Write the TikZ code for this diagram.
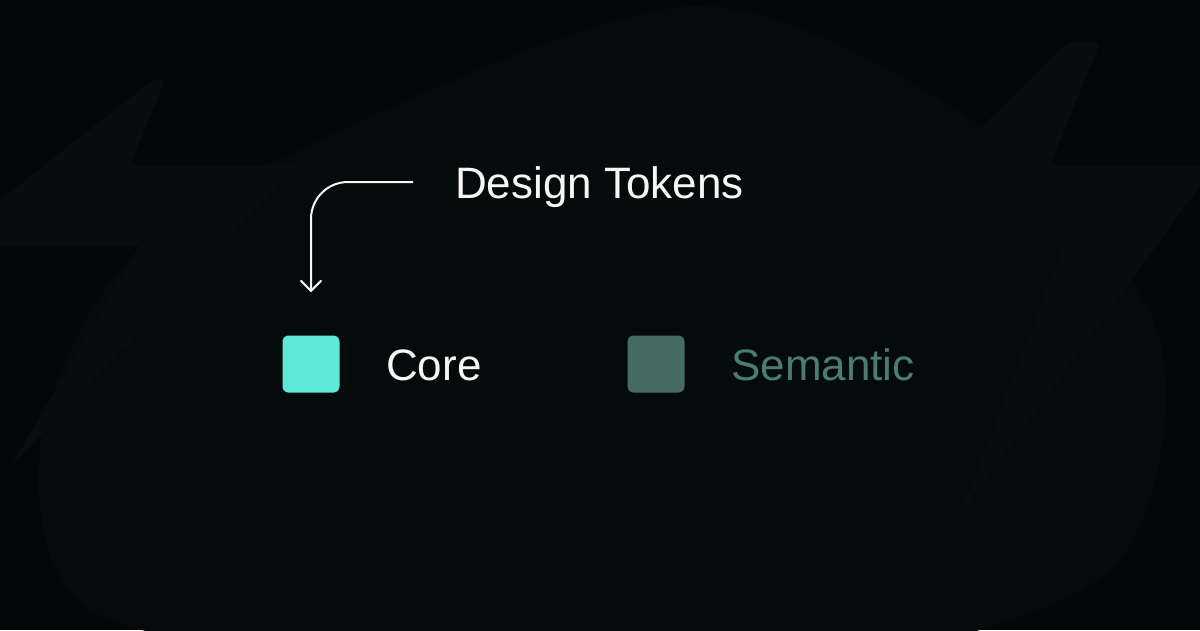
\documentclass[tikz,border=0pt]{standalone}
\usepackage{fontspec}
\setsansfont{Liberation Sans}
\RequirePackage{xcolor}
\definecolor{tokbg}{RGB}{3,7,7}
\definecolor{tokblob}{RGB}{5,10,10}
\definecolor{tokbolt}{RGB}{7,13,13}
\definecolor{tokcore}{RGB}{94,232,214}
\definecolor{toksem}{RGB}{70,107,100}
\definecolor{toksemtext}{RGB}{75,124,114}
\definecolor{tokwhite}{RGB}{246,246,246}
\tikzset{every picture/.style={/utils/exec={\sffamily}}}
\usetikzlibrary{calc}
\usetikzlibrary{positioning}
\usetikzlibrary{arrows.meta}
\tikzset{
  swatch/.style={minimum size=57pt, inner sep=0pt, rounded corners=6pt},
  tokentext/.style={anchor=base west, inner sep=0pt, font=\fontsize{44}{52}\selectfont},
}

\begin{document}
\begin{tikzpicture}[x=1pt,y=-1pt]
  \useasboundingbox (0,0) rectangle (1200,630);
  \clip (0,0) rectangle (1200,630);

  \fill [tokbg] (0,0) rectangle (1200,630); 
  \fill [tokblob] plot [smooth cycle] coordinates {(700,6) (1000,140) (1160,340) (1110,570) (800,670) (400,670) (90,610) (40,450) (120,270) (320,140)}; 

  \fill [tokbolt, rounded corners=4pt] (153,80) -- (165,80) -- (130,165) -- (297,165) -- (10,468) -- (140,245) -- (-57,245) -- cycle; 
  \fill [tokbolt, rounded corners=4pt] (1067,43) -- (1100,43) -- (1050,165) -- (1215,165) -- (960,515) -- (1063,247) -- (860,247) -- cycle; 

  \node [tokentext, text=tokwhite] (title) at (455,198) {Design Tokens}; 
  \node [swatch, fill=tokcore] (coresq) at (311,364) {}; 
  \node [swatch, fill=toksem] (semsq) at (656,364) {}; 
  \node [tokentext, text=tokwhite] (core) at (386,380) {Core}; 
  \node [tokentext, text=toksemtext] (sem) at (731,380) {Semantic}; 

  \coordinate (tail) at (413,182);
  \draw [tokwhite, line width=2pt, rounded corners=37pt, shorten >=43pt,
    -{Straight Barb[length=10pt, width=20pt, line cap=round]}] (tail) -| (coresq.north); 
\end{tikzpicture}
\end{document}
